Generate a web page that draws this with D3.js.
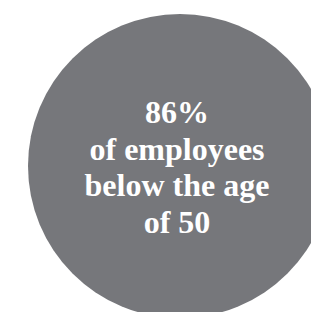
<!DOCTYPE html>
<html>
<head>
<meta charset="utf-8">
<script src="https://cdn.jsdelivr.net/npm/d3@7"></script>
<style>
  html, body { margin: 0; padding: 0; background: #fff; }
  svg { display: block; }
</style>
</head>
<body>
<div id="chart"></div>
<script>
// the share shown in the bubble
const shareValues = [86]
const shareUnits = ['%']
// caption lines below the number
const captionLines = ['of employees', 'below the age', 'of 50']

const width = 311
const height = 312

const svg = d3.select('#chart').append('svg')
  .attr('width', width)
  .attr('height', height)

// bubble radius from the value (full circle for this single figure)
const rScale = d3.scaleSqrt()
  .domain([0, d3.max(shareValues)])
  .range([0, 152])

const cx = 180
const cy = 166

svg.selectAll('circle.bubble')
  .data(shareValues)
  .join('circle')
    .attr('class', 'bubble')
    .attr('cx', cx)
    .attr('cy', cy)
    .attr('r', d => rScale(d))
    .attr('fill', '#76777b')

// text lines: number first, then caption
const lines = shareValues.map((d, i) => d + shareUnits[i]).concat(captionLines)
const yScale = d3.scalePoint()
  .domain(d3.range(lines.length))
  .range([123, 233])

svg.append('g')
  .selectAll('text')
  .data(lines)
  .join('text')
    .attr('x', 177)
    .attr('y', (d, i) => yScale(i))
    .attr('text-anchor', 'middle')
    .attr('fill', '#fff')
    .style('font-family', '"Liberation Serif", "DejaVu Serif", serif')
    .style('font-weight', 'bold')
    .style('font-size', '32px')
    .text(d => d)
</script>
</body>
</html>
